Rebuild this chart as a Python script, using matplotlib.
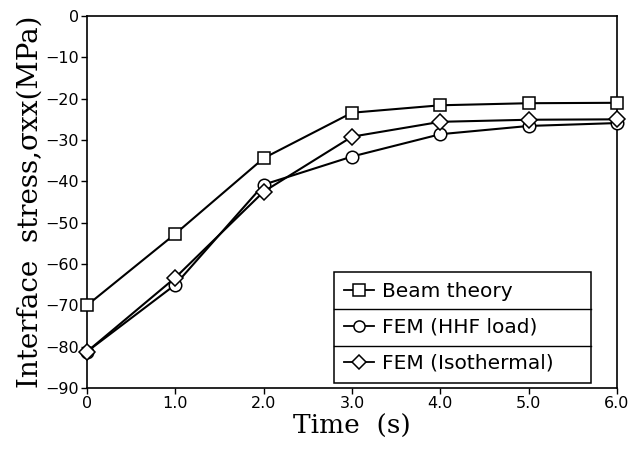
import numpy as np
import matplotlib.pyplot as plt
from matplotlib.lines import Line2D

# data
time_s = [0, 1, 2, 3, 4, 5, 6]
beam_theory = [-70.0, -52.7, -34.4, -23.4, -21.6, -21.1, -21.0]
fem_hhf = [-81.2, -65.0, -40.8, -34.0, -28.6, -26.6, -25.9]
fem_iso = [-81.2, -63.3, -42.5, -29.2, -25.6, -25.1, -25.0]

xticks = [0, 1, 2, 3, 4, 5, 6]
xtick_labels = ['0', '1.0', '2.0', '3.0', '4.0', '5.0', '6.0']
yticks = [0, -10, -20, -30, -40, -50, -60, -70, -80, -90]

fig = plt.figure(figsize=(6.31, 4.51), dpi=100)
ax = fig.add_axes([87 / 631, 1 - 388 / 451, 530 / 631, 372 / 451])

style = dict(color='black', lw=1.5, markerfacecolor='white', markeredgecolor='black',
             markeredgewidth=1.1, clip_on=False, zorder=3)
ax.plot(time_s, beam_theory, marker='s', ms=8.5, label='Beam theory', **style)
ax.plot(time_s, fem_hhf, marker='o', ms=9, label='FEM (HHF load)', **style)
ax.plot(time_s, fem_iso, marker='D', ms=8, label='FEM (Isothermal)', **style)

ax.set_xlim(0, 6)
ax.set_ylim(-90, 0)
ax.set_xticks(xticks)
ax.set_xticklabels(xtick_labels)
ax.set_yticks(yticks)
ax.tick_params(direction='out', length=4, width=1, labelsize=11.5, pad=2)
for s in ax.spines.values():
    s.set_linewidth(1.2)

ax.set_xlabel('Time  (s)', family='DejaVu Serif', fontsize=19, labelpad=2)
ax.set_ylabel('Interface  stress,σxx(MPa)', family='DejaVu Serif', fontsize=20, labelpad=1)

# legend box with separators between entries
handles = [Line2D([], [], color='black', lw=1.3, marker=m, ms=ms, markerfacecolor='white',
                  markeredgecolor='black', markeredgewidth=1.1)
           for m, ms in [('s', 8), ('o', 8), ('D', 7.5)]]
labels = ['Beam theory', 'FEM (HHF load)', 'FEM (Isothermal)']
leg = ax.legend(handles, labels, loc='lower left',
                bbox_to_anchor=((334 - 87) / 530, (388 - 383) / 372, (591 - 334) / 530, (383 - 244) / 372),
                mode='expand', fontsize=14.5, frameon=True, fancybox=False, edgecolor='black',
                framealpha=1, handlelength=1.5, handletextpad=0.4, borderpad=0.5,
                labelspacing=0.85, borderaxespad=0)
leg.get_frame().set_linewidth(1.1)

fig.canvas.draw()
bb = leg.get_frame().get_window_extent().transformed(ax.transAxes.inverted())
for k in (1, 2):
    yy = bb.y0 + bb.height * k / 3
    ax.plot([bb.x0, bb.x1], [yy, yy], color='black', lw=1.0, transform=ax.transAxes,
            zorder=10, clip_on=False)

fig.savefig('out.png', dpi=100)
